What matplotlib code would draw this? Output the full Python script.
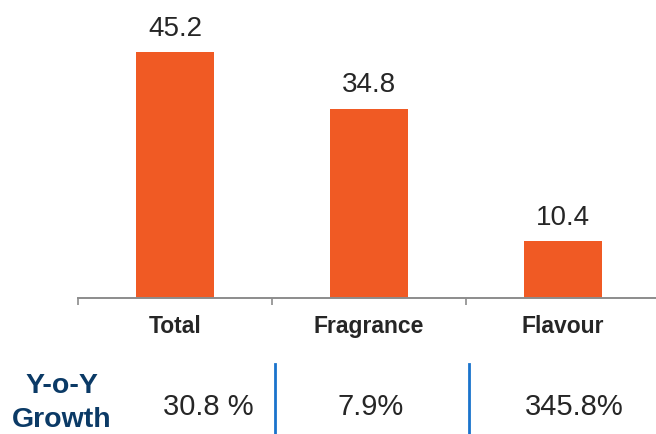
import matplotlib
matplotlib.use("Agg")
import matplotlib.pyplot as plt
import matplotlib.transforms as mtransforms
from matplotlib.lines import Line2D

plt.rcParams['font.family'] = ['Liberation Sans', 'DejaVu Sans']

# Revenue by segment and year-on-year growth
categories = ["Total", "Fragrance", "Flavour"]
values = [45.2, 34.8, 10.4]
growth_labels = ["30.8 %", "7.9%", "345.8%"]

BAR_COLOR = "#F05A24"
TEXT_COLOR = "#262626"
NAVY = "#0B3A66"
DIVIDER = "#1A73CC"
AXIS_GREY = "#8C8C8C"

W, H = 656, 434
fig = plt.figure(figsize=(W / 100, H / 100), dpi=100)
fig.patch.set_facecolor("white")

ax = fig.add_axes([78 / W, 136 / H, 578 / W, 298 / H])
x = list(range(len(categories)))
bars = ax.bar(x, values, width=0.40, color=BAR_COLOR, zorder=2)

ax.set_xlim(-0.5, 2.479)
ax.set_ylim(0, 54.8)

for rect, v in zip(bars, values):
    ax.annotate(f"{v:.1f}", (rect.get_x() + rect.get_width() / 2, v),
                xytext=(0, 12), textcoords="offset points",
                ha="center", va="baseline", fontsize=20, color=TEXT_COLOR)

# Category boundaries as downward ticks, names centred under each bar
ax.set_xticks([i - 0.5 for i in x])
ax.set_xticklabels([])
ax.tick_params(axis="x", which="major", direction="out", length=5,
               width=1.2, color=AXIS_GREY)
ax.set_xticks(x, minor=True)
ax.set_xticklabels(categories, minor=True, fontsize=16.5, fontweight="bold",
                   color=TEXT_COLOR)
ax.tick_params(axis="x", which="minor", length=0, pad=12)

ax.set_yticks([])
for side in ("left", "right", "top"):
    ax.spines[side].set_visible(False)
ax.spines["bottom"].set_color(AXIS_GREY)
ax.spines["bottom"].set_linewidth(1.4)
ax.patch.set_alpha(0)

# Growth row beneath the chart
def fx(px):
    return px / W

def fy(py):
    return 1 - py / H

fig.text(fx(62), fy(386), "Y-o-Y", ha="center", va="center",
         fontsize=20.5, fontweight="bold", color=NAVY)
fig.text(fx(62), fy(420), "Growth", ha="center", va="center",
         fontsize=20.5, fontweight="bold", color=NAVY)

growth_x = [208, 371, 574]
for gx, lbl in zip(growth_x, growth_labels):
    fig.text(fx(gx), fy(407), lbl, ha="center", va="center",
             fontsize=21, color=TEXT_COLOR)

blend = mtransforms.blended_transform_factory(ax.transData, fig.transFigure)
for bx in (0.515, 1.515):
    fig.add_artist(Line2D([bx, bx], [fy(364), 0], transform=blend,
                          color=DIVIDER, linewidth=2))

fig.savefig("out.png", dpi=100, facecolor="white")
